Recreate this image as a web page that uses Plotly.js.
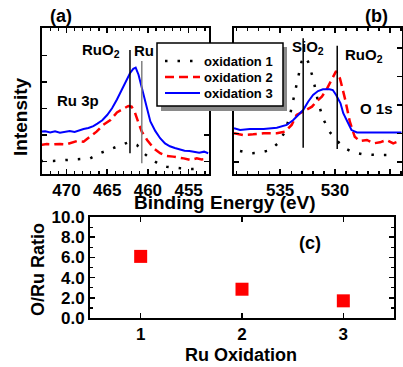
<!DOCTYPE html>
<html><head><meta charset="utf-8">
<script src="https://cdn.plot.ly/plotly-3.0.1.min.js"></script>
<style>html,body{margin:0;padding:0;background:#fff;}#chart{width:403px;height:367px;}</style>
</head><body><div id="chart"></div>
<script>
// ---- Panel (a): Ru 3p ----
const aE1 = [473.2, 471.6, 470.0, 468.3, 467.1, 465.9, 464.6, 463.4, 462.4, 462.0, 461.35, 460.5, 459.7, 458.5, 457.7, 456.0, 454.4, 453.2];
const aI1 = [8.9, 8.9, 9.6, 10.3, 10.7, 14.2, 17.1, 19.9, 21.7, 21.0, 19.9, 14.2, 10.7, 6.2, 5.0, 3.9, 3.4, 3.9];
const aE2 = [473.2, 472.4, 471.6, 470.8, 470.0, 469.3, 468.7, 467.9, 467.1, 466.3, 465.5, 464.6, 463.8, 463.0, 462.4, 462.0, 461.6, 461.2, 460.75, 460.1, 459.3, 458.5, 457.7, 456.9, 456.2, 455.6, 454.8, 454.0, 453.4, 452.7];
const aI2 = [19.9, 20.5, 20.3, 20.6, 20.3, 21.7, 22.6, 22.1, 25.5, 29.0, 33.6, 37.0, 42.2, 45.0, 46.6, 46.1, 42.2, 35.8, 29.0, 23.3, 17.6, 14.2, 12.3, 11.9, 11.5, 10.7, 9.6, 10.7, 10.0, 10.3];
const aE3 = [473.2, 472.6, 472.0, 471.4, 470.8, 470.2, 469.6, 469.0, 468.4, 467.9, 467.3, 466.7, 466.2, 465.6, 465.0, 464.4, 463.8, 463.2, 462.6, 462.2, 461.8, 461.5, 461.15, 460.75, 460.3, 459.7, 459.1, 458.5, 457.9, 457.3, 456.7, 456.1, 455.5, 454.9, 454.3, 453.7, 453.1, 452.6];
const aI3 = [29.0, 29.3, 28.5, 29.2, 28.3, 29.0, 29.4, 28.8, 30.0, 30.8, 31.5, 32.8, 34.5, 36.8, 40.4, 45.0, 51.0, 57.5, 64.5, 69.0, 72.0, 72.8, 68.0, 59.0, 47.5, 36.0, 29.5, 24.5, 21.0, 19.0, 17.8, 17.0, 16.0, 15.8, 15.0, 14.5, 15.3, 14.2];

// ---- Panel (b): O 1s ----
const bE1 = [538.65, 537.75, 536.85, 535.9, 535.2, 534.55, 534.1, 533.65, 533.35, 533.05, 532.75, 532.45, 532.0, 531.55, 531.1, 530.5, 529.9, 529.1, 528.35, 527.45, 526.2, 524.7];
const bI1 = [15.8, 14.2, 14.6, 16.4, 21.0, 29.0, 40.4, 56.4, 67.8, 76.9, 80.4, 76.9, 65.5, 49.5, 38.1, 29.0, 23.3, 17.6, 14.9, 13.5, 13.0, 13.0];
const bE2 = [539.2, 538.35, 537.45, 536.5, 535.3, 534.55, 533.95, 533.5, 533.05, 532.6, 532.1, 531.7, 531.2, 530.8, 530.3, 529.9, 529.55, 529.1, 528.65, 528.2, 527.75, 527.1, 526.5, 525.9, 525.3, 524.7, 524.1];
const bI2 = [27.9, 26.7, 27.2, 27.9, 27.9, 29.0, 33.6, 40.4, 42.2, 43.8, 46.1, 49.5, 53.0, 57.5, 64.4, 70.5, 65.5, 51.8, 35.8, 25.5, 22.6, 23.3, 21.0, 21.7, 23.3, 21.0, 22.6];
const bE3 = [539.2, 538.65, 537.75, 536.5, 535.3, 534.4, 533.8, 533.35, 532.9, 532.45, 532.0, 531.55, 531.1, 530.5, 530.2, 529.9, 529.5, 529.25, 528.9, 528.5, 528.0, 526.8, 525.6, 524.7, 523.95];
const bI3 = [31.3, 30.1, 30.8, 30.8, 31.7, 33.6, 37.0, 40.4, 43.8, 49.5, 54.1, 56.8, 58.0, 58.0, 57.5, 54.1, 48.4, 41.6, 35.8, 30.1, 28.5, 28.5, 29.0, 28.5, 28.5];

// ---- Panel (c): O/Ru ratio ----
const cOxidation = [1, 2, 3];
const cRatio = [6.1, 2.85, 1.7];

const seriesNames = ['oxidation 1', 'oxidation 2', 'oxidation 3'];

// reference lines: [energy, yStart, yEnd, colour]
const aRefLines = [[462.2, 14.2, 84.9, '#000000'], [460.75, 7.3, 77.4, '#808080']];
const bRefLines = [[532.9, 18.0, 93.0, '#000000'], [529.8, 17.1, 87.9, '#000000']];

const FONT = 'Liberation Sans, Arial, Helvetica, sans-serif';
const W = 403, H = 367;
const px = v => v / W;
const py = v => 1 - v / H;

const dotted = {color: '#000000', width: 2.5, dash: '2.5px,10px'};
const dashed = {color: '#ff0000', width: 2.5, dash: '9px,5px'};
const solid = {color: '#0000ff', width: 2};
const styles = [dotted, dashed, solid];

const traces = [
  {x: aE1, y: aI1, xaxis: 'x', yaxis: 'y', mode: 'lines', line: dotted, name: seriesNames[0]},
  {x: aE2, y: aI2, xaxis: 'x', yaxis: 'y', mode: 'lines', line: dashed, name: seriesNames[1]},
  {x: aE3, y: aI3, xaxis: 'x', yaxis: 'y', mode: 'lines', line: solid, name: seriesNames[2]},
  {x: bE1, y: bI1, xaxis: 'x2', yaxis: 'y2', mode: 'lines', line: dotted, name: seriesNames[0]},
  {x: bE2, y: bI2, xaxis: 'x2', yaxis: 'y2', mode: 'lines', line: dashed, name: seriesNames[1]},
  {x: bE3, y: bI3, xaxis: 'x2', yaxis: 'y2', mode: 'lines', line: solid, name: seriesNames[2]},
  {x: cOxidation, y: cRatio, xaxis: 'x3', yaxis: 'y3', mode: 'markers', name: 'O/Ru',
   marker: {symbol: 'square', size: 13, color: '#ff0000'}}
];

const tickFont = {family: FONT, size: 17, color: '#000', weight: 700};
const baseAxis = {
  showline: true, linewidth: 2, linecolor: '#000', mirror: 'ticks',
  ticks: 'inside', ticklen: 5, tickwidth: 1.5, tickcolor: '#000',
  showgrid: false, zeroline: false, tickfont: tickFont, fixedrange: true
};
const minorTicks = {dtick: 1, ticks: 'inside', ticklen: 3, tickwidth: 1.2, tickcolor: '#000'};

const shapes = [];
aRefLines.forEach(l => shapes.push({type: 'line', xref: 'x', yref: 'y', x0: l[0], x1: l[0], y0: l[1], y1: l[2], line: {color: l[3], width: 1.5}}));
bRefLines.forEach(l => shapes.push({type: 'line', xref: 'x2', yref: 'y2', x0: l[0], x1: l[0], y0: l[1], y1: l[2], line: {color: l[3], width: 1.5}}));

// legend box with drop shadow (drawn by hand so its size matches)
const LEG = {x0: 157, x1: 283, y0: 43, y1: 106, rows: [61, 77, 93], lineX0: 165, lineX1: 200, textX: 202};
shapes.push({type: 'rect', xref: 'paper', yref: 'paper', x0: px(LEG.x0 + 4), x1: px(LEG.x1 + 4), y0: py(LEG.y1 + 5), y1: py(LEG.y0 + 4), fillcolor: '#8a8a8a', line: {width: 0}, layer: 'above'});
shapes.push({type: 'rect', xref: 'paper', yref: 'paper', x0: px(LEG.x0), x1: px(LEG.x1), y0: py(LEG.y1), y1: py(LEG.y0), fillcolor: '#ffffff', line: {color: '#000', width: 1.5}, layer: 'above'});
LEG.rows.forEach((r, i) => shapes.push({type: 'line', xref: 'paper', yref: 'paper', x0: px(LEG.lineX0), x1: px(LEG.lineX1), y0: py(r), y1: py(r), line: styles[i], layer: 'above'}));

const ann = (text, x, y, size, opts) => Object.assign({text, x: px(x), y: py(y), xref: 'paper', yref: 'paper', showarrow: false,
  font: {family: FONT, size, color: '#000', weight: 700}, xanchor: 'center', yanchor: 'middle'}, opts || {});

const annotations = [
  ann('(a)', 61, 16, 18),
  ann('(b)', 376, 16, 18),
  ann('(c)', 310, 243, 18),
  ann('RuO<sub>2</sub>', 80, 50, 15, {xanchor: 'left'}),
  ann('Ru', 156, 50, 15, {xanchor: 'right'}),
  ann('Ru 3p', 55, 100, 15, {xanchor: 'left'}),
  ann('SiO<sub>2</sub>', 290, 47, 15, {xanchor: 'left'}),
  ann('RuO<sub>2</sub>', 343, 55, 15, {xanchor: 'left'}),
  ann('O 1s', 358, 108, 15, {xanchor: 'left'}),
  ann('Intensity', 21, 117, 19, {textangle: -90}),
  ann('Binding Energy (eV)', 225, 203, 19),
  ann('O/Ru Ratio', 38, 270, 18, {textangle: -90}),
  ann('Ru Oxidation', 241, 355, 18)
];
LEG.rows.forEach((r, i) => annotations.push(ann(seriesNames[i], LEG.textX, r, 13, {xanchor: 'left'})));

const layout = {
  width: W, height: H,
  margin: {l: 0, r: 0, t: 0, b: 0, pad: 0},
  paper_bgcolor: '#fff', plot_bgcolor: '#fff',
  showlegend: false,
  xaxis: Object.assign({}, baseAxis, {domain: [px(42), px(209)], range: [473, 452.5], dtick: 5, tick0: 0, anchor: 'y', minor: minorTicks}),
  yaxis: Object.assign({}, baseAxis, {domain: [py(174), py(28)], range: [0, 100], tickvals: [8.4, 26.6, 44.8, 63, 81.2], showticklabels: false, anchor: 'x'}),
  xaxis2: Object.assign({}, baseAxis, {domain: [px(234), px(402)], range: [539.2, 523.9], dtick: 5, tick0: 0, anchor: 'y2', minor: minorTicks}),
  yaxis2: Object.assign({}, baseAxis, {domain: [py(174), py(28)], range: [0, 100], tickvals: [8.2, 27.7, 47.3, 66.8, 86.3], showticklabels: false, anchor: 'x2'}),
  xaxis3: Object.assign({}, baseAxis, {domain: [px(90), px(394)], range: [0.5, 3.5], tickvals: cOxidation, anchor: 'y3'}),
  yaxis3: Object.assign({}, baseAxis, {domain: [py(318), py(217)], range: [0, 10], dtick: 2, tick0: 0, tickformat: '.1f', anchor: 'x3', minor: minorTicks}),
  shapes, annotations
};

Plotly.newPlot('chart', traces, layout, {staticPlot: true, displayModeBar: false});
</script></body></html>
